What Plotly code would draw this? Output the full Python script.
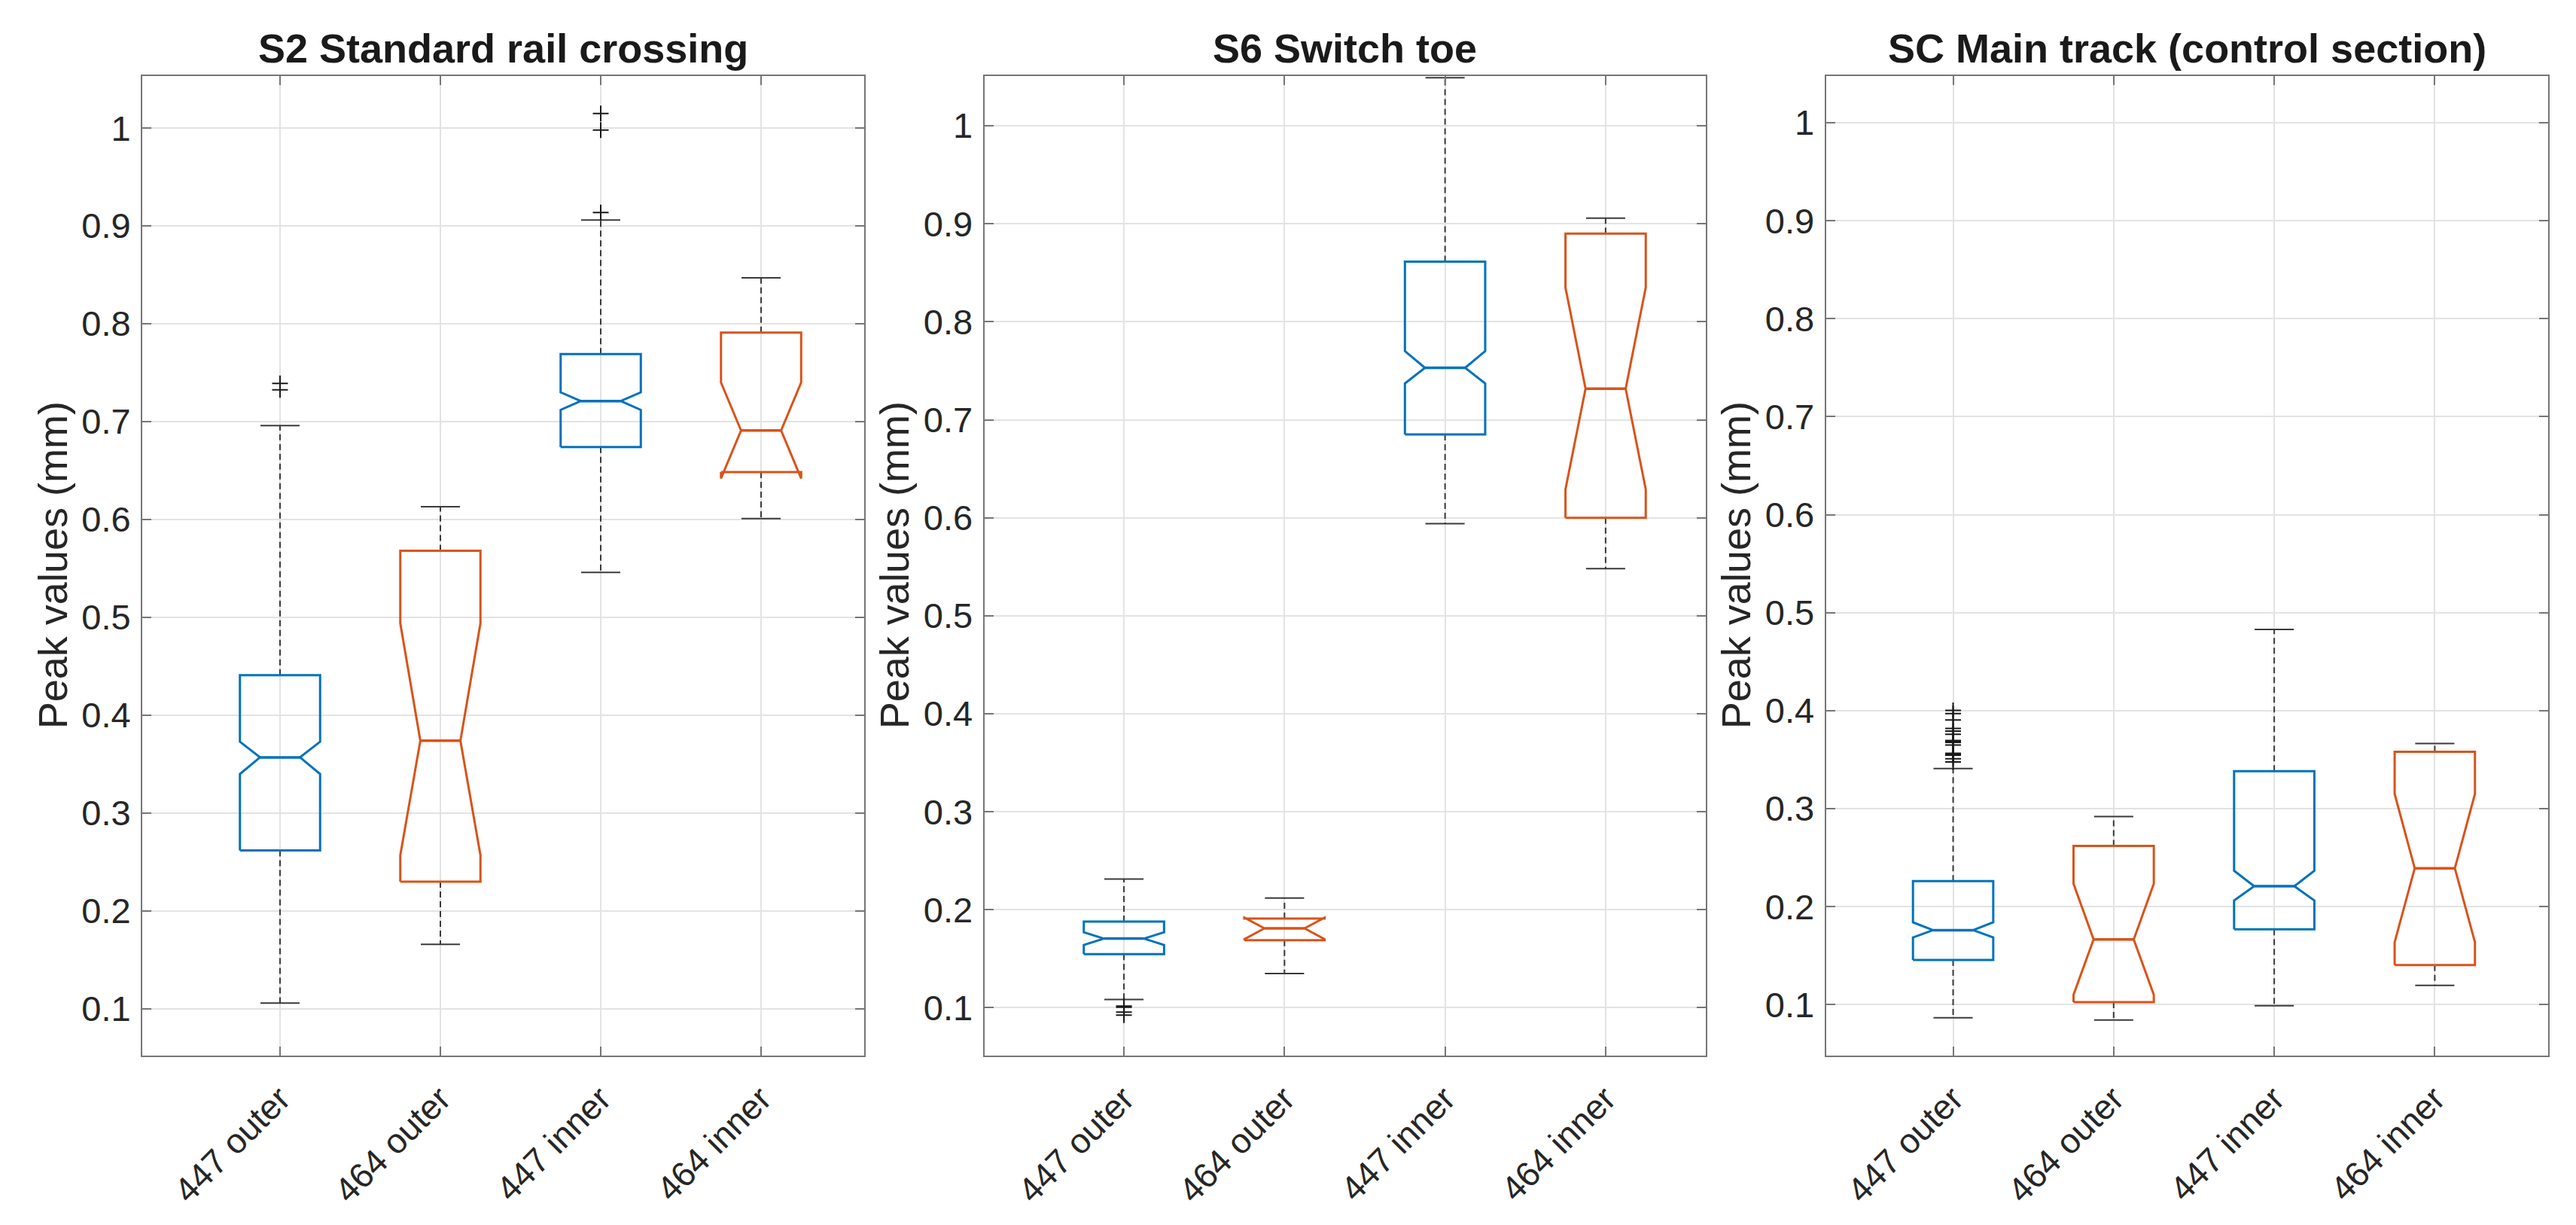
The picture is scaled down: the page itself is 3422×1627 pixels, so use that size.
import plotly.graph_objects as go

W, H = 3422, 1627

categories = ["447 outer", "464 outer", "447 inner", "464 inner"]
titles = ["S2 Standard rail crossing", "S6 Switch toe", "SC Main track (control section)"]
y_ticks = [0.1, 0.2, 0.3, 0.4, 0.5, 0.6, 0.7, 0.8, 0.9, 1.0]
y_tick_text = ["0.1", "0.2", "0.3", "0.4", "0.5", "0.6", "0.7", "0.8", "0.9", "1"]

# ---- S2 Standard rail crossing ----
s2_q1 = [0.262, 0.230, 0.674, 0.6485]
s2_med = [0.357, 0.374, 0.721, 0.691]
s2_q3 = [0.441, 0.568, 0.769, 0.791]
s2_notch_lo = [0.340, 0.257, 0.712, 0.642]
s2_notch_hi = [0.373, 0.494, 0.730, 0.740]
s2_whisk_lo = [0.106, 0.166, 0.546, 0.601]
s2_whisk_hi = [0.696, 0.613, 0.906, 0.847]
s2_outliers = [[0.7325, 0.739], [], [0.9136, 0.998, 1.0149], []]

# ---- S6 Switch toe ----
s6_q1 = [0.1547, 0.169, 0.685, 0.600]
s6_med = [0.1706, 0.181, 0.753, 0.7317]
s6_q3 = [0.188, 0.191, 0.8614, 0.890]
s6_notch_lo = [0.164, 0.170, 0.737, 0.629]
s6_notch_hi = [0.177, 0.192, 0.770, 0.835]
s6_whisk_lo = [0.1085, 0.135, 0.594, 0.548]
s6_whisk_hi = [0.2313, 0.212, 1.049, 0.9057]
s6_outliers = [[0.1017, 0.1005, 0.0955, 0.0925], [], [], []]

# ---- SC Main track (control section) ----
sc_q1 = [0.1455, 0.1025, 0.1768, 0.1403]
sc_med = [0.176, 0.1666, 0.2209, 0.2392]
sc_q3 = [0.226, 0.262, 0.3382, 0.358]
sc_notch_lo = [0.1686, 0.110, 0.2063, 0.1637]
sc_notch_hi = [0.184, 0.2234, 0.2367, 0.315]
sc_whisk_lo = [0.0866, 0.0844, 0.0989, 0.1196]
sc_whisk_hi = [0.341, 0.292, 0.4828, 0.3665]
sc_outliers = [[0.3477, 0.3510, 0.3546, 0.3555, 0.3561, 0.3565, 0.3649, 0.3677,
                0.3685, 0.3695, 0.3759, 0.3792, 0.3818, 0.3905, 0.3971, 0.4002], [], [], []]

panels = [
    dict(q1=s2_q1, med=s2_med, q3=s2_q3, nlo=s2_notch_lo, nhi=s2_notch_hi,
         wlo=s2_whisk_lo, whi=s2_whisk_hi, out=s2_outliers),
    dict(q1=s6_q1, med=s6_med, q3=s6_q3, nlo=s6_notch_lo, nhi=s6_notch_hi,
         wlo=s6_whisk_lo, whi=s6_whisk_hi, out=s6_outliers),
    dict(q1=sc_q1, med=sc_med, q3=sc_q3, nlo=sc_notch_lo, nhi=sc_notch_hi,
         wlo=sc_whisk_lo, whi=sc_whisk_hi, out=sc_outliers),
]

box_colors = ["#0072BD", "#D95319", "#0072BD", "#D95319"]

# layout geometry (pixels)
x_px = [(189, 1148), (1307.5, 2266), (2425.6, 3385)]
y_top_px, y_bot_px = 100.5, 1402
x_ranges = [[0.141, 4.643], [0.130, 4.624], [0.208, 4.706]]
y_ranges = [[0.0523, 1.0535], [0.0512, 1.0511], [0.048, 1.048]]
ylabel_x_px = [70, 1188, 2306]

FONT = "Liberation Sans, Arial, sans-serif"
AXIS_COLOR = "#767676"
TEXT_COLOR = "#262626"

fig = go.Figure()
half_w = 0.25
notch_w = 0.125
cap_w = 0.122

for p, d in enumerate(panels):
    xa = "x" if p == 0 else f"x{p+1}"
    ya = "y" if p == 0 else f"y{p+1}"
    for i in range(len(categories)):
        pos = i + 1
        col = box_colors[i]
        L, R = pos - half_w, pos + half_w
        Li, Ri = pos - notch_w, pos + notch_w
        # whiskers (dashed)
        fig.add_trace(go.Scatter(
            x=[pos, pos, None, pos, pos],
            y=[d["q3"][i], d["whi"][i], None, d["q1"][i], d["wlo"][i]],
            mode="lines", line=dict(color="#3a3a3a", width=2, dash="8px,5px"),
            xaxis=xa, yaxis=ya, showlegend=False, hoverinfo="skip"))
        # caps
        fig.add_trace(go.Scatter(
            x=[pos - cap_w, pos + cap_w, None, pos - cap_w, pos + cap_w],
            y=[d["whi"][i], d["whi"][i], None, d["wlo"][i], d["wlo"][i]],
            mode="lines", line=dict(color="#3a3a3a", width=2),
            xaxis=xa, yaxis=ya, showlegend=False, hoverinfo="skip"))
        # notched box outline
        fig.add_trace(go.Scatter(
            x=[L, L, Li, L, L, R, R, Ri, R, R, L],
            y=[d["q1"][i], d["nlo"][i], d["med"][i], d["nhi"][i], d["q3"][i],
               d["q3"][i], d["nhi"][i], d["med"][i], d["nlo"][i], d["q1"][i], d["q1"][i]],
            mode="lines", line=dict(color=col, width=3),
            xaxis=xa, yaxis=ya, showlegend=False, hoverinfo="skip"))
        # median
        fig.add_trace(go.Scatter(
            x=[Li, Ri], y=[d["med"][i], d["med"][i]],
            mode="lines", line=dict(color=col, width=3.5),
            xaxis=xa, yaxis=ya, showlegend=False, hoverinfo="skip"))
        # outliers
        if d["out"][i]:
            fig.add_trace(go.Scatter(
                x=[pos] * len(d["out"][i]), y=d["out"][i], mode="markers",
                marker=dict(symbol="cross-thin", size=15, line=dict(color="#1a1a1a", width=2)),
                xaxis=xa, yaxis=ya, showlegend=False, hoverinfo="skip"))

layout = dict(
    width=W, height=H, margin=dict(l=0, r=0, t=0, b=0),
    paper_bgcolor="white", plot_bgcolor="white",
    font=dict(family=FONT, color=TEXT_COLOR),
    annotations=[],
)

yd = [1 - y_bot_px / H, 1 - y_top_px / H]
for p in range(3):
    xk = "xaxis" if p == 0 else f"xaxis{p+1}"
    yk = "yaxis" if p == 0 else f"yaxis{p+1}"
    xname = "x" if p == 0 else f"x{p+1}"
    yname = "y" if p == 0 else f"y{p+1}"
    xd = [x_px[p][0] / W, x_px[p][1] / W]
    layout[xk] = dict(
        domain=xd, anchor=yname, range=x_ranges[p],
        tickmode="array", tickvals=[1, 2, 3, 4], ticktext=categories,
        tickangle=-45, tickfont=dict(size=46, family=FONT, color=TEXT_COLOR),
        ticks="inside", ticklen=12, tickwidth=2, tickcolor=AXIS_COLOR,
        showline=True, linecolor=AXIS_COLOR, linewidth=2, mirror="ticks",
        showgrid=True, gridcolor="#e3e3e3", gridwidth=2, zeroline=False,
        ticklabelstandoff=10,
    )
    layout[yk] = dict(
        domain=yd, anchor=xname, range=y_ranges[p],
        tickmode="array", tickvals=y_ticks, ticktext=y_tick_text,
        tickfont=dict(size=47, family=FONT, color=TEXT_COLOR),
        ticks="inside", ticklen=12, tickwidth=2, tickcolor=AXIS_COLOR,
        showline=True, linecolor=AXIS_COLOR, linewidth=2, mirror="ticks",
        showgrid=True, gridcolor="#e3e3e3", gridwidth=2, zeroline=False,
        ticklabelstandoff=4,
    )
    layout["annotations"].append(dict(
        text="<b>" + titles[p] + "</b>", xref="paper", yref="paper",
        x=(xd[0] + xd[1]) / 2, y=1 - 64 / H, xanchor="center", yanchor="middle",
        showarrow=False, font=dict(size=54, family=FONT, color="#1a1a1a")))
    layout["annotations"].append(dict(
        text="Peak values (mm)", xref="paper", yref="paper",
        x=ylabel_x_px[p] / W, y=(yd[0] + yd[1]) / 2, xanchor="center", yanchor="middle",
        textangle=-90, showarrow=False, font=dict(size=54, family=FONT, color=TEXT_COLOR)))

fig.update_layout(**layout)
fig.write_html("out.html")
